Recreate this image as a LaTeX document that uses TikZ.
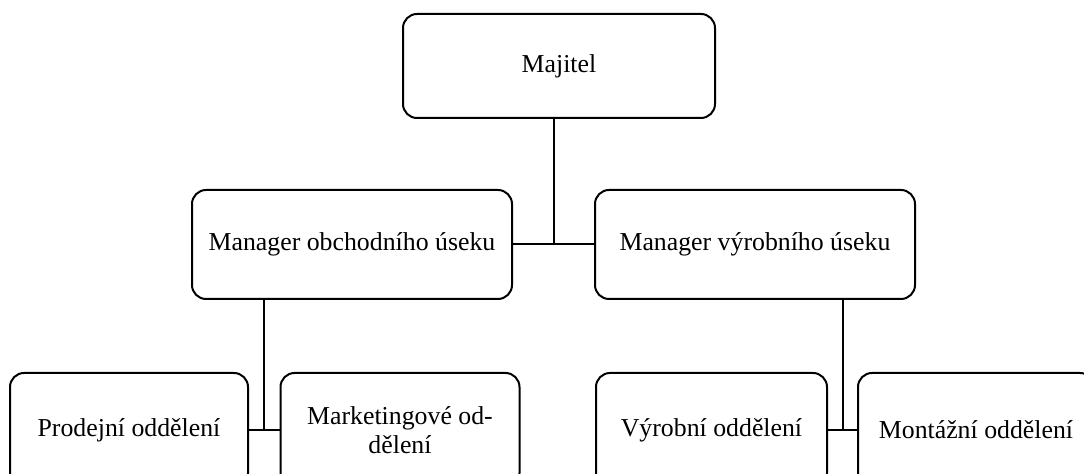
\documentclass[tikz,border=0pt]{standalone}
\usepackage{fontspec}
\setmainfont{Liberation Serif}
\usetikzlibrary{calc}

\begin{document}
\begin{tikzpicture}[x=0.5pt, y=-0.5pt, line width=1pt,
  box/.style={draw, rounded corners=7pt, align=center, inner sep=0pt,
    font=\fontsize{12.9}{14.5}\selectfont}]
  \useasboundingbox (0,0) rectangle (1084,474);
  \clip (0,0) rectangle (1084,474);
  \node[box, minimum width=156pt, minimum height=52pt] (maj) at (559,66) {Majitel};
  \node[box, minimum width=160pt, minimum height=54.5pt] (obch) at (352,244.5) {Manager obchodního úseku};
  \node[box, minimum width=160pt, minimum height=54.5pt] (vyr) at (755,244.5) {Manager výrobního úseku};
  \node[box, minimum width=119pt, minimum height=57pt] (prod) at (129,430) {Prodejní oddělení};
  \node[box, minimum width=119.5pt, minimum height=57pt] (mark) at (400,430) {Marketingové od-\\dělení};
  \node[box, minimum width=115.5pt, minimum height=57pt] (vod) at (711.5,430) {Výrobní oddělení};
  \node[box, minimum width=118pt, minimum height=57pt] (mont) at (976,430) {Montážní oddělení};
  \coordinate (j1) at ($(obch.east)!0.5!(vyr.west)$);
  \coordinate (j2) at ($(prod.east)!0.5!(mark.west)$);
  \coordinate (j3) at ($(vod.east)!0.5!(mont.west)$);
  \draw (obch) -- (vyr);
  \draw (j1) -- (j1 |- maj.south);
  \draw (prod) -- (mark);
  \draw (j2) -- (j2 |- obch.south);
  \draw (vod) -- (mont);
  \draw (j3) -- (j3 |- vyr.south);
\end{tikzpicture}
\end{document}
